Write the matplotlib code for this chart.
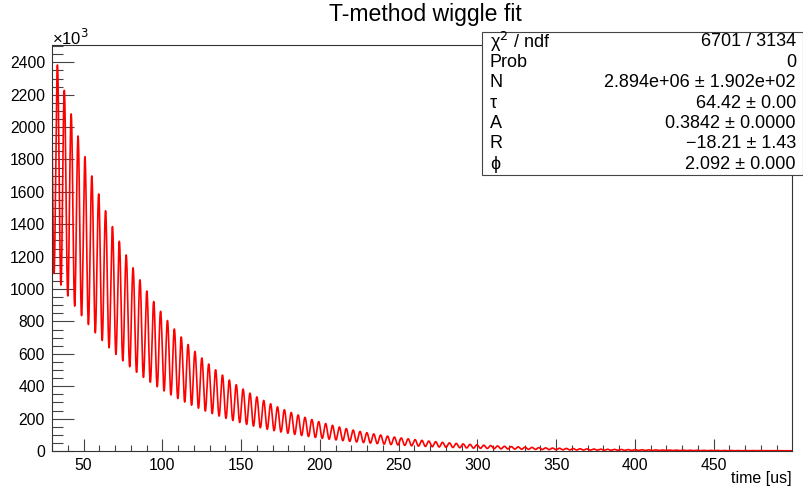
import numpy as np
import matplotlib.pyplot as plt
from matplotlib.ticker import MultipleLocator, FuncFormatter
from matplotlib.patches import Rectangle

plt.rcParams['font.family'] = ['Liberation Sans', 'DejaVu Sans']

# wiggle fit results: N exp(-t/tau) (1 + A cos(omega t + phi))
par_names = ['N', 'τ', 'A', 'R', 'ϕ']
par_values = [2.894e6, 64.42, 0.3842, -18.21, 2.092]
par_errors = [1.902e2, 0.0, 0.0, 1.43, 0.0]
par_formats = ['{:.3e}', '{:.2f}', '{:.4f}', '{:.2f}', '{:.3f}']
chi2 = 6701
ndf = 3134
prob = 0

fit_start = 30.0
fit_stop = 499.7
omega_ref = 2 * np.pi * 0.2291  # rad/us, blinded reference frequency

N, tau, A, R, phi = par_values
omega = omega_ref * (1 + R * 1e-6)
t = np.linspace(fit_start, fit_stop, 30000)
counts = N * np.exp(-t / tau) * (1 + A * np.cos(omega * t + phi))

W, H = 804, 490
fig = plt.figure(figsize=(W / 100, H / 100), dpi=100)
ax = fig.add_axes([52 / W, 1 - 451 / H, (792 - 52) / W, (451 - 45) / H])

ax.plot(t, counts, color='#ff0000', lw=1.2, antialiased=True)

ax.set_xlim(30, 499.7)
ax.set_ylim(0, 2507e3)

ax.xaxis.set_major_locator(MultipleLocator(50))
ax.xaxis.set_minor_locator(MultipleLocator(10))
ax.yaxis.set_major_locator(MultipleLocator(200e3))
ax.yaxis.set_minor_locator(MultipleLocator(50e3))
ax.yaxis.set_major_formatter(FuncFormatter(lambda v, p: f'{v / 1e3:.0f}'))

ax.tick_params(axis='both', which='both', direction='in', color='#444444',
               width=0.8, labelsize=11.3, top=False, right=False)
ax.tick_params(axis='y', which='major', length=16, pad=5)
ax.tick_params(axis='y', which='minor', length=8)
ax.tick_params(axis='x', which='major', length=9, pad=5)
ax.tick_params(axis='x', which='minor', length=4.5)
for s in ax.spines.values():
    s.set_color('#333333')
    s.set_linewidth(0.8)

def px(x, y):
    return x / W, 1 - y / H

fig.text(*px(52, 38), '×10$^{3}$', fontsize=12, ha='left', va='center')
fig.text(*px(792, 478), 'time [us]', fontsize=11.5, ha='right', va='center')
fig.text(*px(425, 15), 'T-method wiggle fit', fontsize=16.6, ha='center', va='center')

# statistics box
box = Rectangle(px(482, 175), (803 - 482) / W, (175 - 32) / H, transform=fig.transFigure,
                facecolor='white', edgecolor='#444444', lw=0.8, zorder=5)
fig.patches.append(box)

rows = [('χ$^2$ / ndf', f'{chi2} / {ndf}'), ('Prob', f'{prob}')]
for name, val, err, fmt in zip(par_names, par_values, par_errors, par_formats):
    rows.append((name, (fmt.format(val) + ' ± ' + fmt.format(err)).replace('-1', '−1')))

y0 = 42
for i, (label, value) in enumerate(rows):
    y = y0 + i * 20.4
    fig.text(*px(490, y), label, fontsize=13, ha='left', va='center', zorder=6)
    fig.text(*px(796, y), value, fontsize=13, ha='right', va='center', zorder=6)

fig.savefig('out.png', dpi=100)
